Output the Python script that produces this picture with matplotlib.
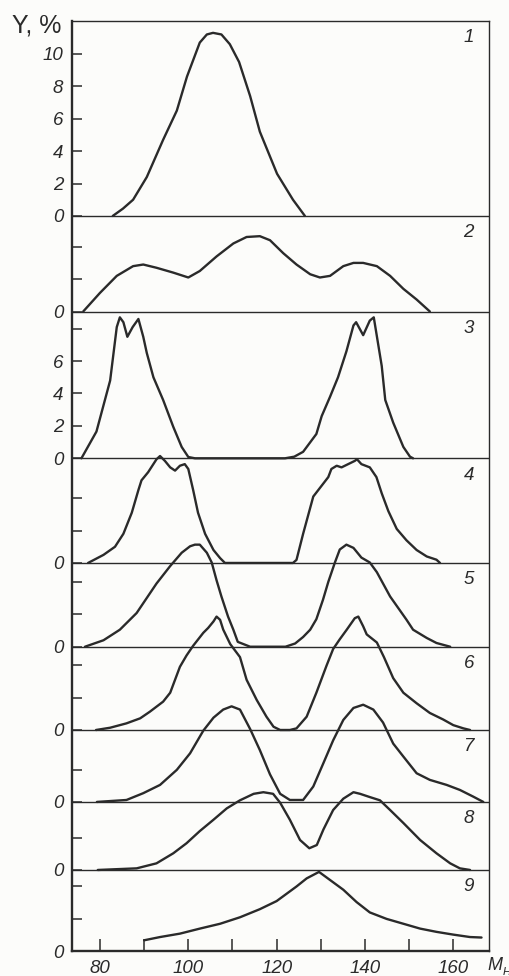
import matplotlib
matplotlib.use('Agg')
import matplotlib.pyplot as plt

# ---------------- data ----------------
# mass number M_H (x) and yield Y, % (y) for each of the 9 curves
m1 = [82.9, 85.2, 87.5, 90.6, 94.3, 97.4, 99.7, 102.6, 104.2, 105.6, 107.5, 109.4, 111.5, 114.0, 116.2, 120.1, 123.7, 126.4]
y1 = [0.0, 0.45, 1.0, 2.4, 4.7, 6.5, 8.6, 10.7, 11.2, 11.3, 11.2, 10.6, 9.5, 7.4, 5.2, 2.6, 1.0, 0.0]

m2 = [76.2, 80.0, 83.8, 87.5, 89.8, 92.8, 96.6, 100.0, 102.6, 106.4, 110.2, 113.2, 116.2, 118.5, 121.5, 124.5, 127.6, 129.8, 132.1, 135.1, 137.4, 139.6, 142.7, 145.7, 148.7, 151.7, 154.7]
y2 = [0.0, 1.15, 2.2, 2.8, 2.9, 2.7, 2.4, 2.1, 2.5, 3.4, 4.2, 4.6, 4.65, 4.4, 3.6, 2.9, 2.3, 2.1, 2.2, 2.8, 3.0, 3.0, 2.8, 2.2, 1.4, 0.74, 0.0]

m3 = [75.8, 79.2, 82.3, 83.8, 84.5, 85.3, 86.2, 87.4, 88.7, 89.8, 90.6, 92.1, 94.3, 96.6, 98.5, 100.0, 101.5,
      121.9, 124.0, 126.0, 129.0, 130.2, 132.1, 133.9, 135.8, 137.4, 138.0, 139.6, 141.1, 142.0, 143.8, 144.6, 146.4, 148.7, 150.2, 150.9]
y3 = [0.0, 1.65, 4.8, 8.1, 8.7, 8.4, 7.5, 8.1, 8.6, 7.5, 6.5, 5.0, 3.6, 1.94, 0.7, 0.08, 0.0,
      0.0, 0.1, 0.4, 1.5, 2.6, 3.8, 5.0, 6.6, 8.2, 8.4, 7.6, 8.5, 8.7, 5.7, 3.6, 2.2, 0.7, 0.1, 0.0]

m4 = [77.3, 80.8, 83.4, 85.3, 87.2, 88.7, 89.4, 90.9, 92.8, 93.6, 94.7, 95.9, 97.0, 98.1, 99.2, 100.0, 101.1, 102.2, 103.8, 105.7, 107.2, 108.3,
      123.7, 124.5, 126.0, 128.3, 131.7, 132.4, 133.6, 134.7, 136.2, 137.7, 138.2, 139.2, 141.1, 142.6, 143.8, 145.3, 147.2, 149.4, 151.7, 154.0, 156.2, 157.0]
y4 = [0.0, 0.5, 1.0, 1.8, 3.1, 4.5, 5.1, 5.6, 6.4, 6.6, 6.3, 5.9, 5.7, 6.0, 6.1, 5.8, 4.5, 3.1, 1.8, 0.8, 0.3, 0.0,
      0.0, 0.19, 1.8, 4.1, 5.3, 5.8, 6.0, 5.9, 6.1, 6.3, 6.4, 6.1, 5.9, 5.3, 4.3, 3.2, 2.1, 1.4, 0.8, 0.4, 0.2, 0.0]

m5 = [76.6, 80.8, 84.5, 88.3, 92.8, 95.9, 98.5, 100.4, 101.5, 102.6, 104.2, 105.3, 106.4, 107.5, 109.0, 110.2, 111.2, 114.0,
      122.0, 124.2, 126.0, 127.6, 129.0, 130.5, 131.7, 133.2, 134.3, 135.8, 137.4, 139.2, 141.1, 142.7, 145.7, 149.4, 150.9, 154.0, 156.2, 159.3]
y5 = [0.0, 0.4, 1.05, 2.08, 3.9, 4.98, 5.8, 6.2, 6.3, 6.3, 5.8, 5.2, 4.1, 3.1, 1.86, 1.05, 0.3, 0.0,
      0.0, 0.2, 0.6, 1.05, 1.7, 2.9, 4.0, 5.2, 6.0, 6.3, 6.1, 5.5, 5.2, 4.6, 3.1, 1.67, 1.05, 0.54, 0.23, 0.0]

m6 = [79.1, 82.3, 86.0, 89.1, 91.3, 94.3, 95.9, 97.0, 98.1, 99.6, 101.1, 103.4, 104.5, 105.7, 106.4, 107.2, 107.9, 109.5, 111.7, 113.2, 115.5, 117.7, 119.3, 120.8,
      123.0, 124.5, 126.8, 129.0, 131.3, 132.8, 134.3, 135.9, 137.7, 138.5, 139.6, 140.4, 142.7, 144.3, 146.4, 148.7, 151.7, 154.7, 157.7, 160.0, 162.3, 163.8]
y6 = [0.0, 0.14, 0.41, 0.72, 1.13, 1.75, 2.3, 3.1, 3.9, 4.6, 5.2, 6.0, 6.3, 6.7, 7.0, 6.8, 6.2, 5.3, 4.5, 3.1, 1.85, 0.82, 0.2, 0.0,
      0.0, 0.1, 0.82, 2.3, 3.97, 5.0, 5.6, 6.2, 6.9, 7.0, 6.4, 5.9, 5.4, 4.5, 3.2, 2.3, 1.65, 1.05, 0.65, 0.3, 0.1, 0.0]

m7 = [79.3, 86.0, 89.8, 93.6, 97.4, 100.4, 103.4, 105.7, 107.9, 109.8, 111.7, 114.0, 116.2, 118.5, 120.8, 123.0, 126.0, 128.3, 130.6, 132.8,
      135.1, 137.4, 139.6, 141.9, 144.1, 146.4, 148.7, 151.7, 154.7, 158.5, 161.5, 164.5, 166.8]
y7 = [0.0, 0.12, 0.54, 1.05, 1.98, 3.0, 4.4, 5.2, 5.7, 5.9, 5.7, 4.5, 3.2, 1.7, 0.5, 0.12, 0.12, 0.95, 2.4, 3.8,
      5.06, 5.8, 6.0, 5.7, 4.9, 3.6, 2.8, 1.77, 1.36, 1.05, 0.74, 0.33, 0.0]

m8 = [79.5, 88.3, 92.8, 96.6, 99.6, 102.6, 105.7, 108.7, 111.7, 114.8, 117.0, 119.2, 120.8, 123.0, 125.3, 127.4, 129.1, 130.6, 132.8,
      135.1, 137.4, 138.9, 141.1, 143.4, 145.7, 148.7, 152.5, 156.2, 159.3, 161.5, 163.8]
y8 = [0.0, 0.1, 0.41, 1.03, 1.65, 2.4, 3.1, 3.8, 4.3, 4.7, 4.8, 4.7, 4.15, 3.1, 1.85, 1.34, 1.54, 2.5, 3.7,
      4.4, 4.8, 4.7, 4.5, 4.3, 3.7, 2.9, 1.85, 1.03, 0.41, 0.1, 0.0]

m9 = [90.0, 93.6, 98.1, 102.6, 107.2, 111.7, 116.2, 120.0, 123.0, 124.5, 126.8, 129.6, 132.1, 135.1, 138.1, 141.1, 144.9, 148.7, 152.5, 156.2, 160.0, 163.8, 166.4]
y9 = [0.68, 0.88, 1.09, 1.4, 1.7, 2.1, 2.6, 3.1, 3.7, 4.0, 4.5, 4.9, 4.4, 3.8, 3.04, 2.4, 2.0, 1.7, 1.4, 1.2, 1.03, 0.88, 0.85]

curve_names = ['1', '2', '3', '4', '5', '6', '7', '8', '9']
curve_m = [m1, m2, m3, m4, m5, m6, m7, m8, m9]
curve_y = [y1, y2, y3, y4, y5, y6, y7, y8, y9]

# y tick values per panel, and those that carry a label
panel_ticks = [[2, 4, 6, 8, 10], [2, 4], [2, 4, 6, 8], [2, 4], [2, 4], [2, 4], [2], [2], [2, 4]]
panel_tick_labels = [[2, 4, 6, 8, 10], [], [2, 4, 6], [], [], [], [], [], []]

x_major = [80, 100, 120, 140, 160]
x_minor = [90, 110, 130, 150]

# ---------------- layout ----------------
baselines = [45.39, 39.49, 30.43, 23.97, 18.80, 13.66, 9.22, 5.02, 0.0]  # vertical offset of each panel
y_top = 57.44
x_lim = (73.55, 168.16)

ink = '#2a2a2a'
font = ['Liberation Sans', 'DejaVu Sans']

fig = plt.figure(figsize=(5.09, 9.76), dpi=100, facecolor='#fcfcfa')
ax = fig.add_axes([71.5 / 509, 24.7 / 976, (489.3 - 71.5) / 509, (951.3 - 20.7) / 976])
ax.set_facecolor('#fcfcfa')
ax.set_xlim(*x_lim)
ax.set_ylim(0, y_top)

for b in baselines[:-1]:
    ax.axhline(b, color=ink, lw=1.0, zorder=2)

for name, m, y, b in zip(curve_names, curve_m, curve_y, baselines):
    ax.plot(m, [v + b for v in y], color=ink, lw=1.7, solid_joinstyle='round',
            solid_capstyle='round', zorder=3, clip_on=False)

# panel numbers near the top right of every panel
tops = [y_top] + baselines[:-1]
for name, t in zip(curve_names, tops):
    ax.annotate(name, xy=(163.5, t), xytext=(0, -17), textcoords='offset pixels',
                ha='center', va='center', fontsize=13.5, style='italic', family=font, color=ink)

# y ticks
ypos, ylab = [], []
for b, ticks, labs in zip(baselines, panel_ticks, panel_tick_labels):
    ypos.append(b)
    ylab.append('0')
    for t in ticks:
        ypos.append(b + t)
        ylab.append(str(t) if t in labs else '')
ax.set_yticks(ypos)
ax.set_yticklabels(ylab, fontsize=13.5, style='italic', family=font, color=ink)
ax.tick_params(axis='y', direction='in', length=7.5, width=1.1, pad=6, colors=ink)

ax.set_xticks(x_major)
ax.set_xticks(x_minor, minor=True)
ax.set_xticklabels([str(v) for v in x_major], fontsize=13.5, style='italic', family=font, color=ink)
ax.tick_params(axis='x', which='both', direction='in', length=8.5, width=1.1, pad=6, colors=ink)

for side in ['left', 'bottom']:
    ax.spines[side].set_linewidth(1.7)
    ax.spines[side].set_color(ink)
for side in ['right', 'top']:
    ax.spines[side].set_linewidth(1.0)
    ax.spines[side].set_color(ink)

fig.text(12 / 509, 1 - 25 / 976, 'Y, %', ha='left', va='center', fontsize=18,
         family=font, color=ink)
fig.text(487 / 509, 1 - 966 / 976, 'M', ha='left', va='center', fontsize=13,
         style='italic', family=font, color=ink)
fig.text(502.5 / 509, 1 - 972 / 976, 'Н', ha='left', va='center', fontsize=8,
         style='italic', family=font, color=ink)

fig.savefig('out.png', dpi=100, facecolor=fig.get_facecolor())
